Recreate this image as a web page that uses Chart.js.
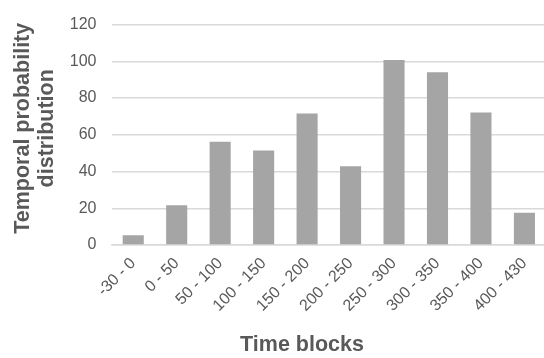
<!DOCTYPE html>
<html>
<head>
<meta charset="utf-8">
<script src="https://cdn.jsdelivr.net/npm/chart.js@4/dist/chart.umd.min.js"></script>
<style>
  html, body { margin: 0; padding: 0; background: #ffffff; overflow: hidden; }
  #wrap { width: 547px; height: 358px; }
</style>
</head>
<body>
<div id="wrap"><canvas id="chart" width="547" height="358"></canvas></div>
<script>
// Time blocks and their temporal probability distribution
const timeBlocks = ['-30 - 0', '0 - 50', '50 - 100', '100 - 150', '150 - 200',
                    '200 - 250', '250 - 300', '300 - 350', '350 - 400', '400 - 430'];
const probability = [5.3, 21.6, 56.2, 51.4, 71.6, 42.9, 100.7, 94.0, 72.2, 17.6];
const yTicks = [0, 20, 40, 60, 80, 100, 120];

const yTitleLines = ['Temporal probability', 'distribution'];
const xTitle = 'Time blocks';

const textGray = '#595959';
const gridGray = '#d9d9d9';
const fontFamily = '"Liberation Sans", Arial, Helvetica, sans-serif';

// Axis titles drawn after the chart, placed relative to the chart area
const axisTitles = {
  id: 'axisTitles',
  afterDraw(chart) {
    const ctx = chart.ctx;
    const area = chart.chartArea;
    ctx.save();
    ctx.fillStyle = textGray;
    ctx.font = 'bold 21.5px ' + fontFamily;
    ctx.textAlign = 'center';
    ctx.textBaseline = 'alphabetic';
    // vertical title, two lines
    ctx.save();
    ctx.translate(0, area.top + (area.bottom - area.top) / 2 - 6.5);
    ctx.rotate(-Math.PI / 2);
    ctx.fillText(yTitleLines[0], 0, 29);
    ctx.fillText(yTitleLines[1], 0, 53);
    ctx.restore();
    // horizontal title
    ctx.fillText(xTitle, 302, 350.5);
    ctx.restore();
  }
};

new Chart(document.getElementById('chart'), {
  type: 'bar',
  data: {
    labels: timeBlocks,
    datasets: [{
      data: probability,
      backgroundColor: '#a5a5a5',
      borderWidth: 0,
      categoryPercentage: 1.0,
      barPercentage: 0.485
    }]
  },
  options: {
    responsive: false,
    animation: false,
    layout: { padding: { top: 20, right: 0, bottom: 0, left: 0 } },
    plugins: {
      legend: { display: false },
      tooltip: { enabled: false }
    },
    scales: {
      x: {
        grid: { display: false, drawTicks: false },
        border: { display: true, color: gridGray, width: 1.5 },
        ticks: {
          color: textGray,
          font: { family: fontFamily, size: 16 },
          minRotation: 45,
          maxRotation: 45,
          padding: 9,
          autoSkip: false
        },
        afterFit(scale) { scale.height = 113; }
      },
      y: {
        min: 0,
        max: 120,
        afterBuildTicks(scale) { scale.ticks = yTicks.map(v => ({ value: v })); },
        grid: { color: gridGray, lineWidth: 1.5, drawTicks: false },
        border: { display: false },
        ticks: {
          color: textGray,
          font: { family: fontFamily, size: 16 },
          padding: 15
        },
        afterFit(scale) { scale.width = 111.5; }
      }
    }
  },
  plugins: [axisTitles]
});
</script>
</body>
</html>
